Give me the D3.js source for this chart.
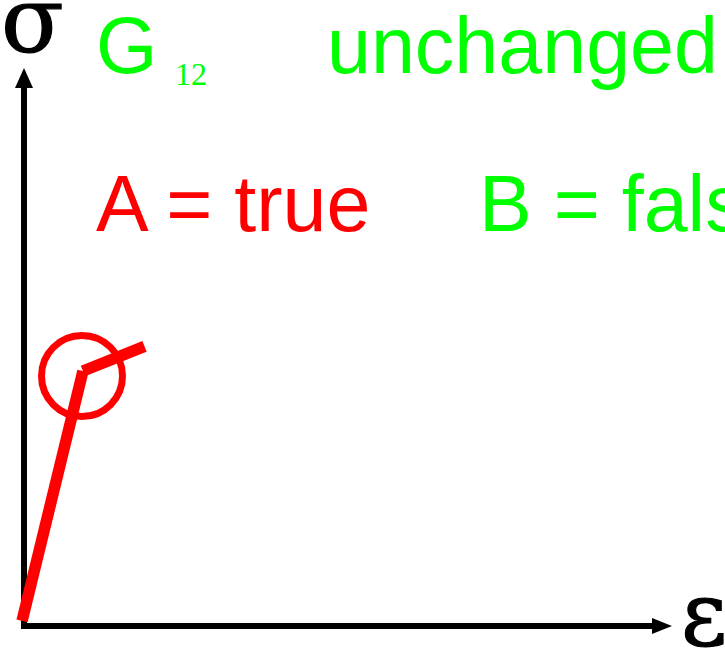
<!DOCTYPE html>
<html>
<head>
<meta charset="utf-8">
<script src="https://cdn.jsdelivr.net/npm/d3@7"></script>
<style>
html,body{margin:0;padding:0;background:#fff;overflow:hidden;}
svg{display:block;}
</style>
</head>
<body>
<script>
// Data (strain ε, stress σ) in arbitrary units
const strain = [-0.3, 9.1, 18.6];
const stress = [0.9, 45.7, 50.1];
const markStrain = [8.95];
const markStress = [44.8];
const axisDomainX = [0, 100];
const axisDomainY = [0, 100];
const labels = ["G", "12", "unchanged", "A = true", "B = false"];

const W = 725, H = 649;
const svg = d3.select("body").append("svg").attr("width", W).attr("height", H);
svg.append("rect").attr("width", W).attr("height", H).attr("fill", "#fff");

const x = d3.scaleLinear().domain(axisDomainX).range([24, 672]);
const y = d3.scaleLinear().domain(axisDomainY).range([626, 68]);

// axes
svg.append("line").attr("x1", x(0)).attr("y1", y(0) + 3).attr("x2", x(0)).attr("y2", y(100) + 18)
  .attr("stroke", "#000").attr("stroke-width", 6);
svg.append("line").attr("x1", x(0)).attr("y1", y(0)).attr("x2", x(100) - 18).attr("y2", y(0))
  .attr("stroke", "#000").attr("stroke-width", 6);
svg.append("path").attr("d", `M${x(0)},${y(100)} L${x(0)-9},${y(100)+20} L${x(0)+9},${y(100)+20} Z`).attr("fill", "#000");
svg.append("path").attr("d", `M${x(100)},${y(0)} L${x(100)-20},${y(0)-8} L${x(100)-20},${y(0)+8} Z`).attr("fill", "#000");

// curve: two segments with butt caps
for (let i = 0; i < strain.length - 1; i++) {
  svg.append("line")
    .attr("x1", x(strain[i])).attr("y1", y(stress[i]))
    .attr("x2", x(strain[i+1])).attr("y2", y(stress[i+1]))
    .attr("stroke", "#ff0000").attr("stroke-width", 11.5).attr("stroke-linecap", "butt");
}
// circle marker
svg.append("circle").attr("cx", x(markStrain[0])).attr("cy", y(markStress[0]))
  .attr("r", x(markStrain[0] + 6.25) - x(markStrain[0]))
  .attr("fill", "none").attr("stroke", "#ff0000").attr("stroke-width", 7);

// axis symbols
const serifSym = "DejaVu Serif, serif";
svg.append("text").attr("x", 1).attr("y", 52).attr("font-family", serifSym)
  .attr("font-size", 92).attr("fill", "#000").attr("stroke", "#000").attr("stroke-width", 1.2).text("σ");
svg.append("text").attr("x", 681).attr("y", 645).attr("font-family", serifSym)
  .attr("font-size", 89).attr("fill", "#000").attr("stroke", "#000").attr("stroke-width", 1.2).text("ε");

// labels
const sans = "Liberation Sans, Arial, sans-serif";
const fs = 79;
svg.append("text").attr("x", 96).attr("y", 73).attr("font-family", sans).attr("font-size", fs)
  .attr("fill", "#00ff00").text(labels[0]);
svg.append("text").attr("x", 175).attr("y", 85).attr("font-family", "Liberation Serif, serif").attr("font-size", 32)
  .attr("fill", "#00ff00").text(labels[1]);
svg.append("text").attr("x", 327).attr("y", 73).attr("font-family", sans).attr("font-size", fs)
  .attr("fill", "#00ff00").text(labels[2]);
svg.append("text").attr("x", 96).attr("y", 231).attr("font-family", sans).attr("font-size", fs)
  .attr("fill", "#ff0000").text(labels[3]);
svg.append("text").attr("x", 479).attr("y", 231).attr("font-family", sans).attr("font-size", fs)
  .attr("fill", "#00ff00").text(labels[4]);
</script>
</body>
</html>
